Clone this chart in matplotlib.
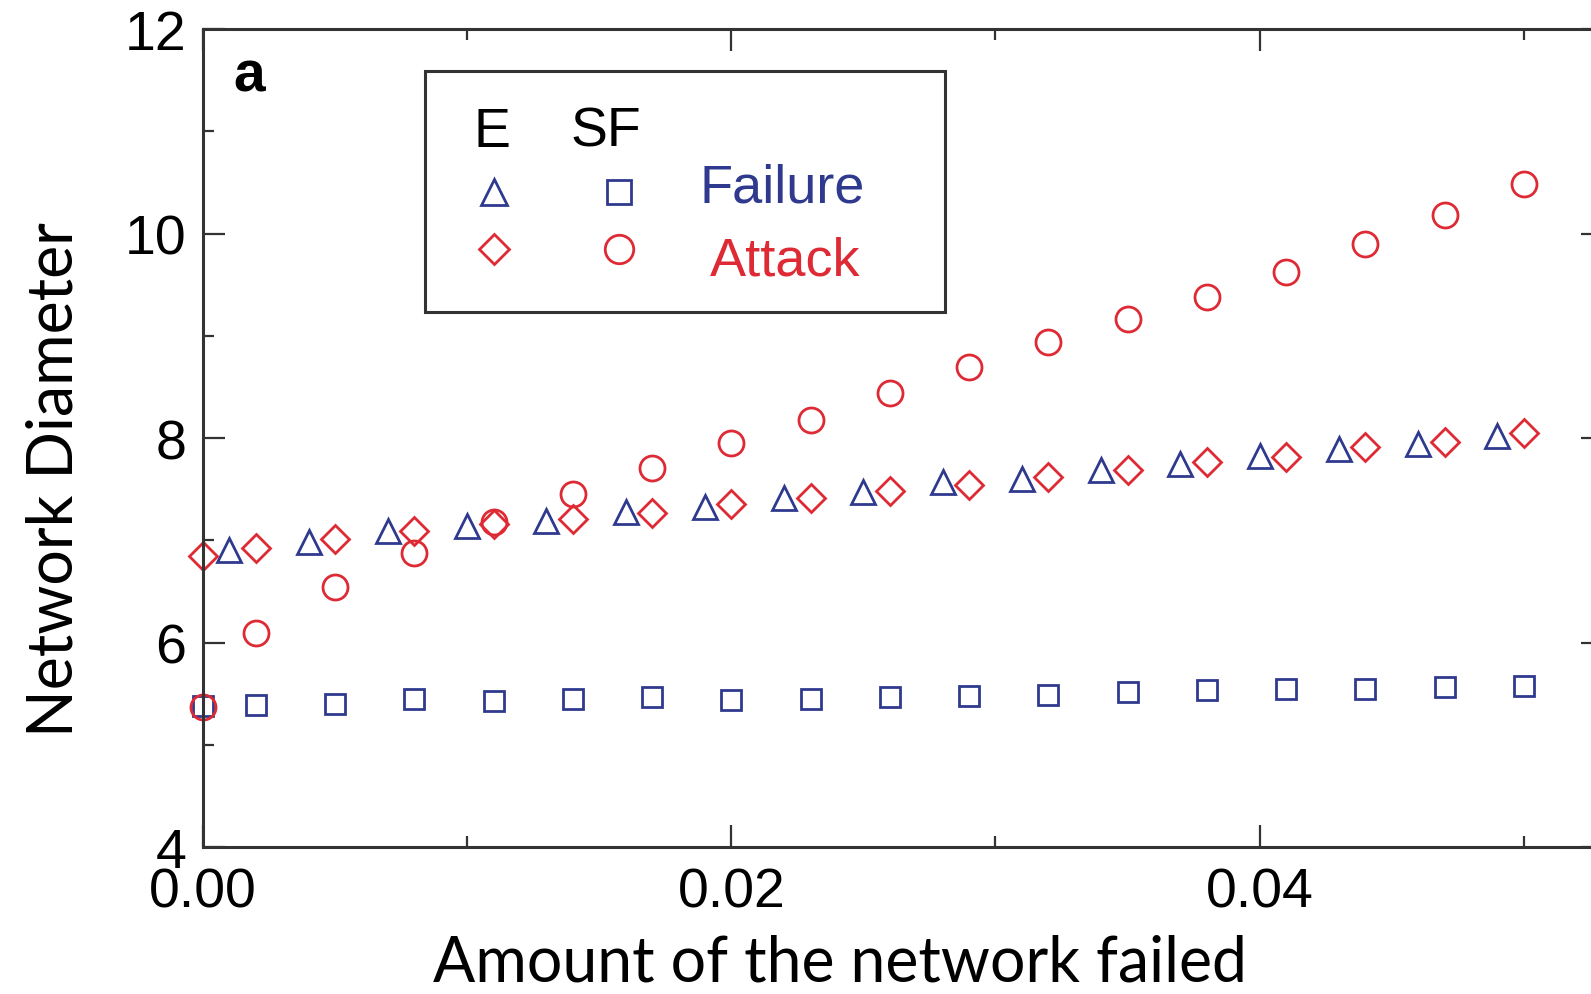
import matplotlib
matplotlib.use("Agg")
import matplotlib.pyplot as plt
from matplotlib.patches import Rectangle
from matplotlib.ticker import MultipleLocator

# Fraction of nodes removed
x_sf = [0.000, 0.002, 0.005, 0.008, 0.011, 0.014, 0.017, 0.020, 0.023,
        0.026, 0.029, 0.032, 0.035, 0.038, 0.041, 0.044, 0.047, 0.050]
x_e_failure = [0.001, 0.004, 0.007, 0.010, 0.013, 0.016, 0.019, 0.022, 0.025,
               0.028, 0.031, 0.034, 0.037, 0.040, 0.043, 0.046, 0.049]
x_e_attack = x_sf

# Network diameter
e_failure = [6.90, 6.98, 7.09, 7.14, 7.19, 7.28, 7.33, 7.41, 7.47,
             7.57, 7.60, 7.69, 7.75, 7.82, 7.89, 7.94, 8.02]
e_attack = [6.85, 6.92, 7.01, 7.09, 7.16, 7.21, 7.27, 7.35, 7.41,
            7.48, 7.54, 7.62, 7.69, 7.77, 7.81, 7.91, 7.96, 8.05]
sf_failure = [5.38, 5.39, 5.40, 5.45, 5.43, 5.45, 5.47, 5.44, 5.45,
              5.47, 5.48, 5.49, 5.52, 5.54, 5.55, 5.55, 5.56, 5.57]
sf_attack = [5.37, 6.09, 6.54, 6.88, 7.18, 7.45, 7.71, 7.95, 8.18,
             8.44, 8.69, 8.94, 9.16, 9.38, 9.62, 9.90, 10.18, 10.48]

BLUE = "#2f3a8e"
RED = "#de2a34"
TICK_FONT = "Liberation Sans"
LABEL_FONT = "Lato"

fig = plt.figure(figsize=(15.91, 9.95), dpi=100)
# axes runs slightly past the right edge of the canvas
ax = fig.add_axes([203 / 1591, 147 / 995, 1400 / 1591, 818 / 995])

mk = dict(linestyle="none", markerfacecolor="none", markeredgewidth=2.0)
pts = dict(clip_on=False, **mk)
ax.plot(x_sf, sf_failure, marker="s", ms=14.5, markeredgecolor=BLUE, **pts)
ax.plot(x_sf, sf_attack, marker="o", ms=18, markeredgecolor=RED, **pts)
ax.plot(x_e_failure, e_failure, marker="^", ms=17, markeredgecolor=BLUE, **pts)
ax.plot(x_e_attack, e_attack, marker="D", ms=14, markeredgecolor=RED, **pts)

ax.set_xlim(0, 0.053)
ax.set_ylim(4, 12)
ax.xaxis.set_major_locator(MultipleLocator(0.02))
ax.xaxis.set_minor_locator(MultipleLocator(0.01))
ax.yaxis.set_major_locator(MultipleLocator(2))
ax.yaxis.set_minor_locator(MultipleLocator(1))
ax.set_xticks([0, 0.02, 0.04])
ax.set_xticklabels(["0.00", "0.02", "0.04"])
ax.tick_params(which="both", direction="in", top=True, right=True,
               width=1.6, color="#333333")
ax.tick_params(which="major", length=16, labelsize=40)
ax.tick_params(which="minor", length=8)
ax.tick_params(axis="y", which="major", pad=12)
ax.tick_params(axis="x", which="major", pad=14)
for lab in ax.get_xticklabels() + ax.get_yticklabels():
    lab.set_fontfamily(TICK_FONT)
for sp in ax.spines.values():
    sp.set_linewidth(2.2)
    sp.set_color("#333333")

# panel letter
ax.text(0.0214, 0.9254, "a", transform=ax.transAxes, fontsize=41,
        fontweight="bold", family=TICK_FONT, ha="left", va="baseline")

# key box
ax.add_patch(Rectangle((0.1586, 0.654), 0.3714, 0.2947, transform=ax.transAxes,
                       fill=False, linewidth=2.2, edgecolor="#333333"))
ax.text(0.2064, 0.857, "E", transform=ax.transAxes, fontsize=40,
        family=TICK_FONT, ha="center", va="baseline")
ax.text(0.2879, 0.857, "SF", transform=ax.transAxes, fontsize=40,
        family=TICK_FONT, ha="center", va="baseline")
key = dict(transform=ax.transAxes, clip_on=False, **mk)
ax.plot([0.2079], [0.8007], marker="^", ms=19, markeredgecolor=BLUE, **key)
ax.plot([0.2971], [0.8007], marker="s", ms=17, markeredgecolor=BLUE, **key)
ax.plot([0.2079], [0.7311], marker="D", ms=15.5, markeredgecolor=RED, **key)
ax.plot([0.2971], [0.7311], marker="o", ms=20.5, markeredgecolor=RED, **key)
ax.text(0.355, 0.7897, "Failure", transform=ax.transAxes, fontsize=39,
        family=TICK_FONT, color=BLUE, ha="left", va="baseline")
ax.text(0.362, 0.6993, "Attack", transform=ax.transAxes, fontsize=39,
        family=TICK_FONT, color=RED, ha="left", va="baseline")

# axis titles
fig.text(840 / 1591, 1 - 982 / 995, "Amount of the network failed",
         fontsize=45, family=LABEL_FONT, ha="center", va="baseline")
fig.text(73 / 1591, 1 - 480 / 995, "Network Diameter", fontsize=45,
         family=LABEL_FONT, rotation=90, rotation_mode="anchor",
         ha="center", va="baseline")

fig.savefig("out.png", dpi=100)
